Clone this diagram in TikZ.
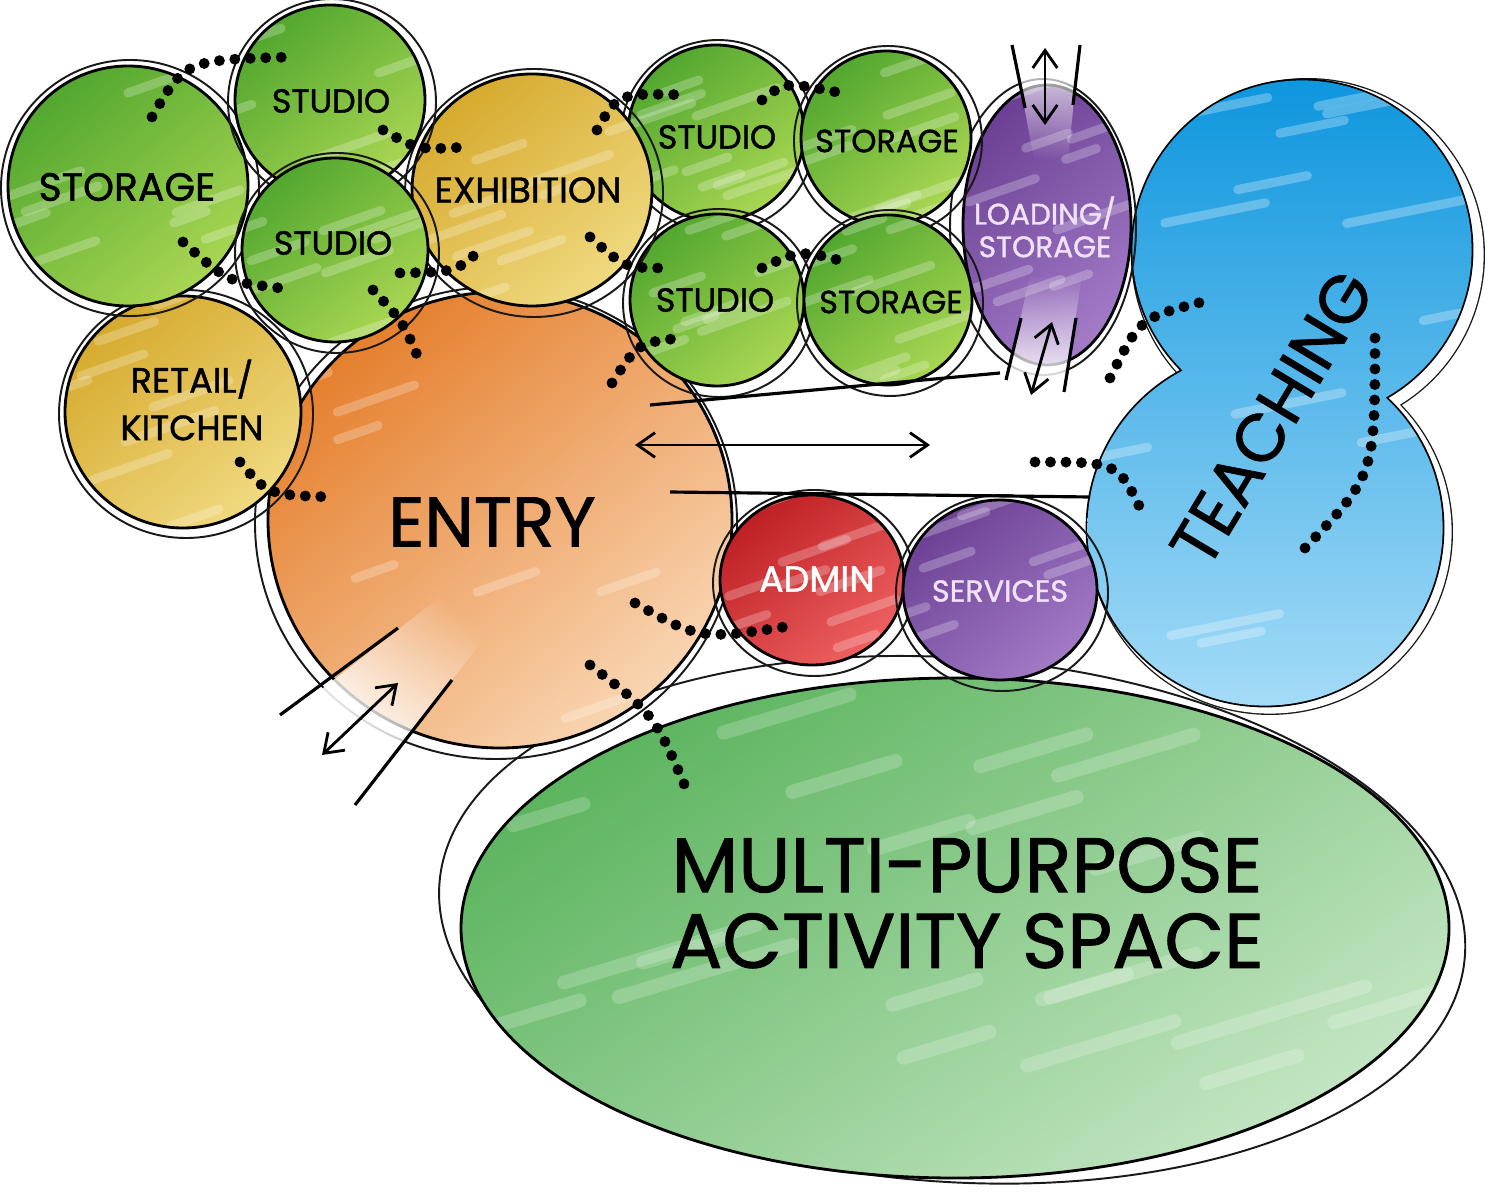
\documentclass[tikz,border=0pt]{standalone}
\usepackage{fontspec}
\newfontfamily\lblfont{Poppins}[FakeBold=1.2]
\usetikzlibrary{arrows.meta,calc,fadings}
\definecolor{grD}{HTML}{52A72F}
\definecolor{grL}{HTML}{A9D652}
\definecolor{ocD}{HTML}{D6AA2D}
\definecolor{ocL}{HTML}{F0D980}
\definecolor{puD}{HTML}{6C4195}
\definecolor{puL}{HTML}{A27AC6}
\definecolor{blD}{HTML}{0E96DE}
\definecolor{blL}{HTML}{A4DBF7}
\definecolor{orD}{HTML}{E57F2D}
\definecolor{orL}{HTML}{F9D5B2}
\definecolor{rdD}{HTML}{BE2024}
\definecolor{rdL}{HTML}{EE6060}
\definecolor{mpD}{HTML}{5CB45E}
\definecolor{mpL}{HTML}{C3E5C2}
\definecolor{lav}{HTML}{F1E2F8}
\tikzfading[name=fadeS, top color=transparent!0, bottom color=transparent!100]
\tikzset{
  sk/.style={line width=0.8pt, black},
  skout/.style={line width=0.55pt, black!90},
  dotline/.style={line width=3.1pt, line cap=round, dash pattern=on 0pt off 4.4pt, black},
  lbl/.style={font=\lblfont\fontsize{9.5}{11}\selectfont, inner sep=0pt, align=center, text=black},
  flowline/.style={line width=0.9pt, black},
  flowarrow/.style={line width=0.8pt, black, {Straight Barb[length=5pt,width=7pt]}-{Straight Barb[length=5pt,width=7pt]}},
  streak/.style={white, opacity=0.24, line width=2.6pt, line cap=round},
}
% x, y, rx, ry, dark, light, dx, dy
\newcommand\bubble[8]{%
  \draw[skout] (#1+#7,#2+#8) ellipse [x radius=#3+9, y radius=#4+8];
  \shade[left color=#5, right color=#6, shading angle=40] (#1,#2) ellipse [x radius=#3, y radius=#4];
  \begin{scope}
    \clip (#1,#2) ellipse [x radius=#3, y radius=#4];
    \foreach \k in {1,...,9} {
      \pgfmathsetmacro\sy{#2-#4+2*#4*rnd}
      \pgfmathsetmacro\sx{#1-#3+2*#3*rnd}
      \pgfmathsetmacro\sl{15+30*rnd}
      \draw[streak] (\sx-\sl,\sy+0.35*\sl) -- (\sx+\sl,\sy-0.35*\sl);
    }
  \end{scope}
  \draw[sk] (#1,#2) ellipse [x radius=#3, y radius=#4];
}
\begin{document}
\begin{tikzpicture}[x=0.01cm, y=-0.01cm]
\pgfmathsetseed{11}
\fill[white] (0,0) rectangle (1489,1192);
\useasboundingbox (0,0) rectangle (1489,1192);

% multi-purpose
\draw[skout, rotate around={-4:(955,922)}] (952,920) ellipse [x radius=514, y radius=262];
\shade[left color=mpD, right color=mpL, shading angle=35] (955,928) ellipse [x radius=494, y radius=250];
\begin{scope}
  \clip (955,928) ellipse [x radius=494, y radius=250];
  \foreach \k in {1,...,22} {
    \pgfmathsetmacro\sy{690+480*rnd}
    \pgfmathsetmacro\sx{470+970*rnd}
    \pgfmathsetmacro\sl{30+70*rnd}
    \draw[streak, opacity=0.2, line width=4pt] (\sx-\sl,\sy+0.3*\sl) -- (\sx+\sl,\sy-0.3*\sl);
  }
\end{scope}
\draw[sk] (955,928) ellipse [x radius=494, y radius=250];

% entry
\bubble{500}{520}{232}{228}{orD}{orL}{-4}{3}

% teaching
\draw[skout] (1308,255) circle [radius=176] (1270,532) circle [radius=182];
\fill[white] (1308,255) circle [radius=175.6] (1270,532) circle [radius=181.6];
\draw[sk] (1302,250) circle [radius=170] (1265,528) circle [radius=178];
\shade[top color=blD, bottom color=blL] (1302,250) circle [radius=169.6] (1265,528) circle [radius=177.6];
\begin{scope}
  \clip (1302,250) circle [radius=169.6] (1265,528) circle [radius=177.6];
  \foreach \k in {1,...,16} {
    \pgfmathsetmacro\sy{90+610*rnd}
    \pgfmathsetmacro\sx{1090+380*rnd}
    \pgfmathsetmacro\sl{20+50*rnd}
    \draw[streak, opacity=0.28] (\sx-\sl,\sy+0.2*\sl) -- (\sx+\sl,\sy-0.2*\sl);
  }
\end{scope}

% loading / storage
\bubble{1047}{225}{84}{140}{puD}{puL}{-4}{2}

% studio / storage grid
\bubble{716}{133}{88}{88}{grD}{grL}{2}{3}
\bubble{886}{138}{85}{87}{grD}{grL}{2}{3}
\bubble{717}{300}{87}{86}{grD}{grL}{2}{3}
\bubble{888}{300}{84}{85}{grD}{grL}{2}{3}

% exhibition, retail
\bubble{532}{190}{120}{116}{ocD}{ocL}{2}{3}
\bubble{183}{412}{118}{116}{ocD}{ocL}{3}{2}

% left cluster
\bubble{128}{186}{120}{120}{grD}{grL}{2}{2}
\bubble{330}{100}{95}{95}{grD}{grL}{2}{2}
\bubble{335}{250}{93}{92}{grD}{grL}{2}{3}

% admin, services
\bubble{812}{580}{92}{85}{rdD}{rdL}{2}{3}
\bubble{1000}{590}{97}{90}{puD}{puL}{2}{3}

% white fading bands
\fill[white, path fading=fadeS] (1012,40) -- (1080,40) -- (1068,160) -- (1034,160) -- cycle;
\fill[white, path fading=fadeS, fading angle=180] (1030,275) -- (1082,275) -- (1064,395) -- (1005,388) -- cycle;
\begin{scope}
  \clip (445,593) -- (490,631) -- (355,805) -- (280,715) -- cycle;
  \fill[white, path fading=fadeS, fading angle=135] (445,593) -- (490,631) -- (392,762) -- (318,692) -- cycle;
  \fill[white] (318,692) -- (392,762) -- (355,805) -- (280,715) -- cycle;
\end{scope}

% flow lines and arrows
\coordinate (cu1) at (650,405); \coordinate (cu2) at (1000,373);
\coordinate (cl1) at (670,492); \coordinate (cl2) at (1090,497);
\coordinate (ca1) at (635,445); \coordinate (ca2) at (930,445);
\draw[flowline] (cu1) -- (cu2);
\draw[flowline] (cl1) -- (cl2);
\draw[flowarrow] (ca1) -- (ca2);

\coordinate (lt1) at (1012,45); \coordinate (lt2) at (1025,108);
\coordinate (lt3) at (1080,45); \coordinate (lt4) at (1073,105);
\coordinate (lta) at (1045,48); \coordinate (ltb) at (1045,125);
\draw[flowline] (lt1) -- (lt2);
\draw[flowline] (lt3) -- (lt4);
\draw[flowarrow] (lta) -- (ltb);

\coordinate (lb1) at (1021,318); \coordinate (lb2) at (1006,380);
\coordinate (lb3) at (1076,318); \coordinate (lb4) at (1064,392);
\coordinate (lba) at (1052,322); \coordinate (lbb) at (1031,395);
\draw[flowline] (lb1) -- (lb2);
\draw[flowline] (lb3) -- (lb4);
\draw[flowarrow] (lba) -- (lbb);

\coordinate (eb1) at (398,628); \coordinate (eb2) at (280,715);
\coordinate (eb3) at (452,680); \coordinate (eb4) at (355,805);
\coordinate (eba) at (398,683); \coordinate (ebb) at (322,755);
\draw[flowline] (eb1) -- (eb2);
\draw[flowline] (eb3) -- (eb4);
\draw[flowarrow] (eba) -- (ebb);

% dotted adjacencies
\coordinate (d1a) at (152,117); \coordinate (d1b) at (185,60); \coordinate (d1c) at (292,57);
\draw[dotline] (d1a) .. controls (d1b) .. (d1c);
\coordinate (d2a) at (383,130); \coordinate (d2b) at (418,150); \coordinate (d2c) at (466,147);
\draw[dotline] (d2a) .. controls (d2b) .. (d2c);
\coordinate (d3a) at (183,242); \coordinate (d3b) at (228,282); \coordinate (d3c) at (280,288);
\draw[dotline] (d3a) .. controls (d3b) .. (d3c);
\coordinate (d4a) at (400,273); \coordinate (d4b) at (455,272); \coordinate (d4c) at (478,252);
\draw[dotline] (d4a) .. controls (d4b) .. (d4c);
\coordinate (d5a) at (373,290); \coordinate (d5b) at (403,322); \coordinate (d5c) at (420,362);
\draw[dotline] (d5a) .. controls (d5b) .. (d5c);
\coordinate (d6a) at (597,130); \coordinate (d6b) at (618,93); \coordinate (d6c) at (687,95);
\draw[dotline] (d6a) .. controls (d6b) .. (d6c);
\coordinate (d7a) at (762,100); \coordinate (d7b) at (785,82); \coordinate (d7c) at (836,92);
\draw[dotline] (d7a) .. controls (d7b) .. (d7c);
\coordinate (d8a) at (590,237); \coordinate (d8b) at (625,268); \coordinate (d8c) at (666,268);
\draw[dotline] (d8a) .. controls (d8b) .. (d8c);
\coordinate (d9a) at (762,268); \coordinate (d9b) at (800,250); \coordinate (d9c) at (846,262);
\draw[dotline] (d9a) .. controls (d9b) .. (d9c);
\coordinate (d10a) at (612,383); \coordinate (d10b) at (638,343); \coordinate (d10c) at (680,338);
\draw[dotline] (d10a) .. controls (d10b) .. (d10c);
\coordinate (d11a) at (240,462); \coordinate (d11b) at (268,495); \coordinate (d11c) at (333,497);
\draw[dotline] (d11a) .. controls (d11b) .. (d11c);
\coordinate (d12a) at (1110,378); \coordinate (d12b) at (1140,318); \coordinate (d12c) at (1202,302);
\draw[dotline] (d12a) .. controls (d12b) .. (d12c);
\coordinate (d13a) at (1035,462); \coordinate (d13b) at (1118,462); \coordinate (d13c) at (1142,512);
\draw[dotline] (d13a) .. controls (d13b) .. (d13c);
\coordinate (d14a) at (1305,548); \coordinate (d14b) at (1375,475); \coordinate (d14c) at (1375,337);
\draw[dotline] (d14a) .. controls (d14b) .. (d14c);
\coordinate (d15a) at (635,603); \coordinate (d15b) at (700,640); \coordinate (d15c) at (797,625);
\draw[dotline] (d15a) .. controls (d15b) .. (d15c);
\coordinate (d16a) at (590,665); \coordinate (d16b) at (655,715); \coordinate (d16c) at (690,798);
\draw[dotline] (d16a) .. controls (d16b) .. (d16c);

% labels
\node[lbl, font=\lblfont\fontsize{11.2}{12}\selectfont] (storeL) at (127,187) {STORAGE};
\node[lbl] (studioT) at (331,101) {STUDIO};
\node[lbl] (studioM) at (333,243) {STUDIO};
\node[lbl, font=\lblfont\fontsize{10.2}{12}\selectfont] (exhib) at (528,190) {EXHIBITION};
\node[lbl, font=\lblfont\fontsize{10}{13.5}\selectfont] (retail) at (192,400) {RETAIL/\\KITCHEN};
\node[lbl] (studio1) at (717,137) {STUDIO};
\node[lbl, font=\lblfont\fontsize{9.1}{11}\selectfont] (store1) at (887,141) {STORAGE};
\node[lbl] (studio2) at (715,300) {STUDIO};
\node[lbl, font=\lblfont\fontsize{9.1}{11}\selectfont] (store2) at (891,302) {STORAGE};
\node[lbl, font=\lblfont\fontsize{8.4}{9.3}\selectfont, text=lav] (loading) at (1045,227) {LOADING/\\STORAGE};
\node[lbl, font=\lblfont\fontsize{20}{22}\selectfont] (entry) at (492,522) {ENTRY};
\node[lbl, font=\lblfont\fontsize{10.3}{12}\selectfont, text=white] (admin) at (817,579) {ADMIN};
\node[lbl, font=\lblfont\fontsize{8.6}{10}\selectfont, text=lav] (services) at (1000,591) {SERVICES};
\node[lbl, font=\lblfont\fontsize{22}{21.5}\selectfont] (multi) at (967,903) {MULTI-PURPOSE\\ACTIVITY SPACE};
\node[lbl, font=\lblfont\fontsize{19}{20}\selectfont, rotate=59] (teach) at (1272,418) {TEACHING};
\end{tikzpicture}
\end{document}
